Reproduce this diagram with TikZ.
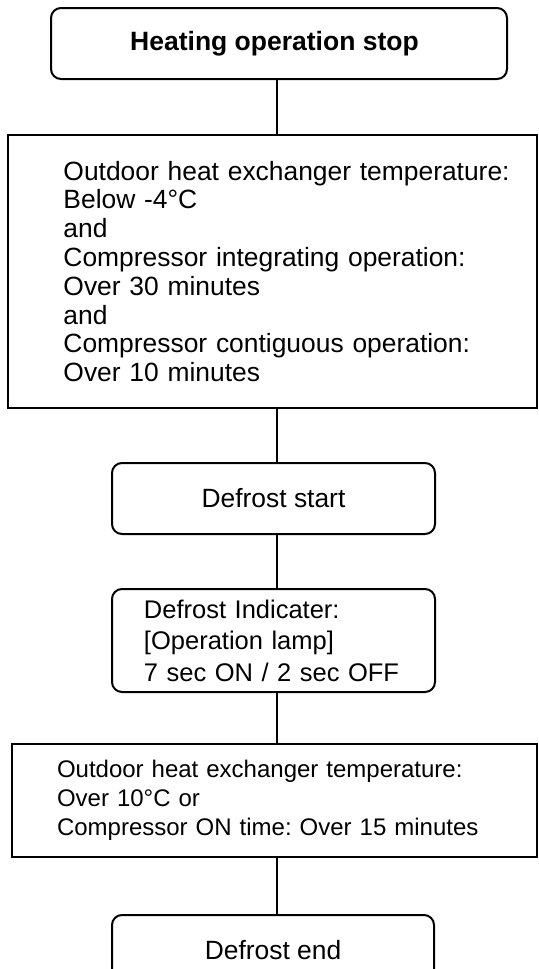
\documentclass[tikz,border=0pt]{standalone}
\usepackage{fontspec}
\setmainfont{Liberation Sans}
\usetikzlibrary{positioning}
\frenchspacing

\begin{document}
\begin{tikzpicture}[ line width=1pt , node distance=26.5pt ,
  font=\fontsize{13.2}{14.4}\selectfont ,
  roundbox/.style={ draw , rounded corners=5pt , minimum width=161.5pt , minimum height=35.5pt , inner sep=0pt } ,
  condbox/.style={ draw , inner sep=0pt , align=left } ]
\path [ use as bounding box , fill=white ] (0,0) rectangle (269pt,-484.5pt);
\coordinate (spine) at (138.5pt,0);
\node [ roundbox , minimum width=228pt , font=\fontsize{13.25}{14.4}\selectfont\bfseries ] (heatstop) at (139.5pt,-21.75pt) {Heating operation stop\kern4.5pt};
\node [ condbox , text width=264.5pt , minimum height=136.5pt , execute at begin node={\frenchspacing\leftskip=27.75pt} ] (defcond) [ below = 27pt of heatstop , xshift=-3.25pt ]
  {Outdoor heat exchanger temperature:\\Below -4°C\\and\\Compressor integrating operation:\\Over 30 minutes\\and\\Compressor contiguous operation:\\Over 10 minutes};
\node [ roundbox ] (defstart) [ below = of defcond , xshift=0.5pt ] {Defrost start};
\node [ roundbox , align=left , text width=161.5pt , minimum height=51.5pt , font=\fontsize{12.75}{15.75}\selectfont , execute at begin node={\frenchspacing\leftskip=16pt} ] (indicator) [ below = of defstart ]
  {Defrost Indicater:\\{[}Operation lamp{]}\\7 sec ON / 2 sec OFF};
\node [ condbox , text width=262.5pt , minimum height=56.5pt , font=\fontsize{12}{14.5}\selectfont , execute at begin node={\frenchspacing\leftskip=22.5pt} ] (endcond) [ below = 25pt of indicator , xshift=0.5pt ]
  {Outdoor heat exchanger temperature:\\Over 10°C or\\Compressor ON time: Over 15 minutes};
\node [ roundbox , minimum width=161pt ] (defend) [ below = 28pt of endcond , xshift=-0.75pt ] {Defrost end};
\path
(heatstop.south -| spine) edge (defcond.north -| spine)
(defcond.south -| spine) edge (defstart.north -| spine)
(defstart.south -| spine) edge (indicator.north -| spine)
(indicator.south -| spine) edge (endcond.north -| spine)
(endcond.south -| spine) edge (defend.north -| spine);
\end{tikzpicture}
\end{document}
